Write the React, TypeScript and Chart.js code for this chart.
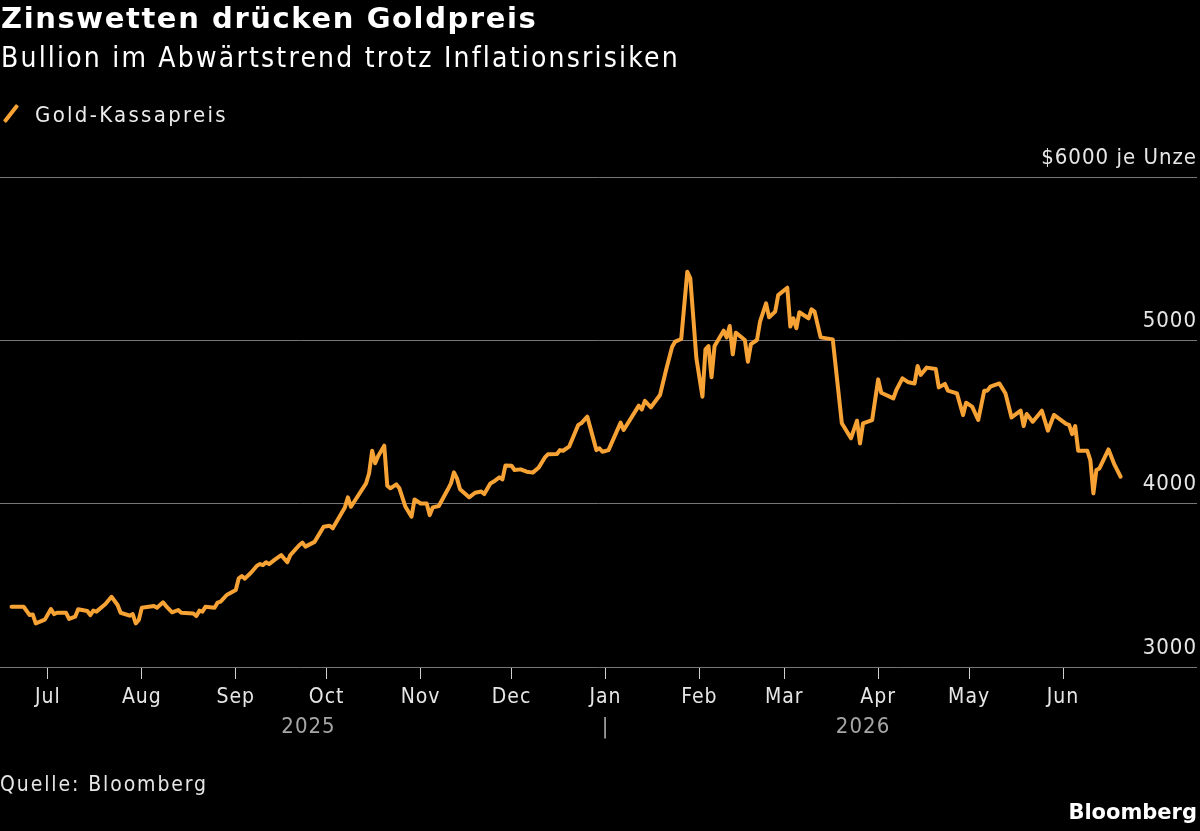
import React, { useEffect, useRef } from "react";
import { Chart, registerables } from "chart.js";

Chart.register(...registerables);

const FONT = '"DejaVu Sans Condensed", "DejaVu Sans", sans-serif';
const FONT_BOLD = '"DejaVu Sans", sans-serif';
const GOLD = "#F7A235";

// Gold spot price, USD per troy ounce
const dates = [
  "2025-06-19", "2025-06-23", "2025-06-25", "2025-06-26", "2025-06-27", "2025-06-30",
  "2025-07-02", "2025-07-03", "2025-07-04", "2025-07-07", "2025-07-08", "2025-07-10",
  "2025-07-11", "2025-07-14", "2025-07-15", "2025-07-16", "2025-07-17", "2025-07-20",
  "2025-07-22", "2025-07-24", "2025-07-25", "2025-07-28", "2025-07-29", "2025-07-30",
  "2025-07-31", "2025-08-01", "2025-08-05", "2025-08-06", "2025-08-08", "2025-08-09",
  "2025-08-11", "2025-08-13", "2025-08-14", "2025-08-18", "2025-08-19", "2025-08-20",
  "2025-08-21", "2025-08-22", "2025-08-25", "2025-08-26", "2025-08-27", "2025-08-29",
  "2025-09-01", "2025-09-02", "2025-09-03", "2025-09-04", "2025-09-06", "2025-09-08",
  "2025-09-09", "2025-09-10", "2025-09-11", "2025-09-12", "2025-09-14", "2025-09-16",
  "2025-09-18", "2025-09-19", "2025-09-22", "2025-09-23", "2025-09-24", "2025-09-27",
  "2025-09-30", "2025-10-02", "2025-10-03", "2025-10-07", "2025-10-08", "2025-10-09",
  "2025-10-14", "2025-10-15", "2025-10-16", "2025-10-17", "2025-10-18", "2025-10-20",
  "2025-10-21", "2025-10-22", "2025-10-24", "2025-10-25", "2025-10-27", "2025-10-29",
  "2025-10-30", "2025-11-01", "2025-11-03", "2025-11-04", "2025-11-05", "2025-11-07",
  "2025-11-10", "2025-11-11", "2025-11-12", "2025-11-13", "2025-11-14", "2025-11-17",
  "2025-11-19", "2025-11-21", "2025-11-22", "2025-11-24", "2025-11-25", "2025-11-27",
  "2025-11-28", "2025-11-29", "2025-12-01", "2025-12-02", "2025-12-04", "2025-12-06",
  "2025-12-08", "2025-12-10", "2025-12-12", "2025-12-13", "2025-12-16", "2025-12-17",
  "2025-12-18", "2025-12-20", "2025-12-23", "2025-12-24", "2025-12-26", "2025-12-29",
  "2025-12-30", "2025-12-31", "2026-01-02", "2026-01-06", "2026-01-07", "2026-01-12",
  "2026-01-13", "2026-01-14", "2026-01-16", "2026-01-19", "2026-01-21", "2026-01-23",
  "2026-01-24", "2026-01-26", "2026-01-28", "2026-01-29", "2026-01-31", "2026-02-02",
  "2026-02-03", "2026-02-04", "2026-02-05", "2026-02-06", "2026-02-09", "2026-02-10",
  "2026-02-11", "2026-02-12", "2026-02-13", "2026-02-16", "2026-02-17", "2026-02-18",
  "2026-02-20", "2026-02-21", "2026-02-23", "2026-02-24", "2026-02-26", "2026-02-27",
  "2026-03-02", "2026-03-03", "2026-03-04", "2026-03-05", "2026-03-06", "2026-03-09",
  "2026-03-10", "2026-03-11", "2026-03-13", "2026-03-17", "2026-03-20", "2026-03-23",
  "2026-03-25", "2026-03-26", "2026-03-27", "2026-03-30", "2026-04-01", "2026-04-02",
  "2026-04-06", "2026-04-07", "2026-04-09", "2026-04-11", "2026-04-13", "2026-04-14",
  "2026-04-15", "2026-04-17", "2026-04-20", "2026-04-21", "2026-04-23", "2026-04-24",
  "2026-04-27", "2026-04-29", "2026-04-30", "2026-05-02", "2026-05-04", "2026-05-06",
  "2026-05-07", "2026-05-08", "2026-05-11", "2026-05-13", "2026-05-15", "2026-05-18",
  "2026-05-19", "2026-05-20", "2026-05-22", "2026-05-25", "2026-05-27", "2026-05-29",
  "2026-06-02", "2026-06-03", "2026-06-04", "2026-06-05", "2026-06-06", "2026-06-09",
  "2026-06-10", "2026-06-11", "2026-06-12", "2026-06-13", "2026-06-16", "2026-06-18",
  "2026-06-20",
];

const goldPrices = [
  3369, 3369, 3318, 3322, 3267, 3290,
  3355, 3324, 3332, 3332, 3294, 3308,
  3353, 3343, 3318, 3345, 3339, 3386,
  3430, 3380, 3332, 3314, 3324, 3267,
  3288, 3363, 3373, 3363, 3396, 3373,
  3335, 3349, 3332, 3328, 3312, 3345,
  3339, 3369, 3363, 3394, 3400, 3441,
  3471, 3543, 3557, 3541, 3577, 3620,
  3630, 3624, 3641, 3630, 3659, 3685,
  3641, 3685, 3747, 3761, 3737, 3766,
  3859, 3865, 3849, 3977, 4039, 3981,
  4124, 4186, 4324, 4247, 4292, 4355,
  4110, 4094, 4118, 4094, 3981, 3920,
  4026, 4001, 4001, 3930, 3977, 3986,
  4088, 4124, 4192, 4155, 4088, 4039,
  4067, 4074, 4059, 4124, 4134, 4161,
  4149, 4234, 4232, 4206, 4210, 4196,
  4190, 4222, 4283, 4302, 4304, 4328,
  4324, 4349, 4482, 4492, 4533, 4328,
  4339, 4318, 4328, 4496, 4451, 4600,
  4577, 4629, 4590, 4665, 4818, 4961,
  4992, 5008, 5420, 5379, 4890, 4655,
  4945, 4965, 4774, 4965, 5059, 5018,
  5088, 4914, 5047, 5002, 4869, 4977,
  5002, 5114, 5226, 5141, 5176, 5277,
  5322, 5084, 5135, 5074, 5172, 5135,
  5190, 5176, 5018, 5006, 4492, 4400,
  4508, 4369, 4492, 4512, 4761, 4679,
  4645, 4696, 4767, 4743, 4736, 4843,
  4788, 4833, 4824, 4712, 4733, 4692,
  4675, 4543, 4618, 4594, 4512, 4692,
  4692, 4716, 4736, 4675, 4528, 4569,
  4475, 4549, 4502, 4569, 4447, 4543,
  4488, 4482, 4426, 4475, 4324, 4324,
  4267, 4063, 4206, 4216, 4332, 4237,
  4165,
];

const monthStarts = [
  "2025-07-01", "2025-08-01", "2025-09-01", "2025-10-01", "2025-11-01", "2025-12-01",
  "2026-01-01", "2026-02-01", "2026-03-01", "2026-04-01", "2026-05-01", "2026-06-01",
];
const monthLabels = ["Jul", "Aug", "Sep", "Oct", "Nov", "Dec", "Jan", "Feb", "Mar", "Apr", "May", "Jun"];
const yearBreak = "2026-01-01";
const yearLabels = ["2025", "|", "2026"];
const priceTicks = [3000, 4000, 5000, 6000];
const priceUnit = "je Unze";

// x values are days counted from 1 July 2025
const ORIGIN = Date.UTC(2025, 6, 1);
const toDay = (iso: string) => (Date.parse(iso) - ORIGIN) / 86400000;

const X_MIN = -15.8;
const X_MAX = 379.2;

// Slightly looser tracking for all canvas text (axis labels)
const trackingPlugin = {
  id: "tracking",
  beforeDraw(chart: any) {
    chart.ctx.letterSpacing = "1px";
  },
};

export default function App() {
  const canvasRef = useRef<HTMLCanvasElement | null>(null);

  useEffect(() => {
    document.documentElement.style.background = "#000";
    document.body.style.margin = "0";
    document.body.style.background = "#000";

    const canvas = canvasRef.current;
    if (!canvas) return;

    const points = dates.map((d, i) => ({ x: toDay(d), y: goldPrices[i] }));
    const firstDay = toDay(dates[0]);
    const lastDay = toDay(dates[dates.length - 1]);
    const breakDay = toDay(yearBreak);
    const yearTickValues = [(firstDay + breakDay) / 2, breakDay, (breakDay + lastDay) / 2];

    const chart = new Chart(canvas, {
      type: "line",
      data: {
        datasets: [
          {
            label: "Gold-Kassapreis",
            data: points,
            borderColor: GOLD,
            borderWidth: 4,
            pointRadius: 0,
            tension: 0,
            borderJoinStyle: "round",
            borderCapStyle: "round",
          },
        ],
      },
      plugins: [trackingPlugin],
      options: {
        animation: false,
        responsive: true,
        maintainAspectRatio: false,
        layout: { padding: { top: 177, bottom: 80, left: 0, right: 3 } },
        plugins: {
          legend: { display: false },
          tooltip: { enabled: false },
        },
        scales: {
          x: {
            type: "linear",
            position: "bottom",
            min: X_MIN,
            max: X_MAX,
            afterBuildTicks: (scale: any) => {
              scale.ticks = monthStarts.map((d) => ({ value: toDay(d) }));
            },
            afterFit: (scale: any) => {
              scale.height = 44;
            },
            ticks: {
              autoSkip: false,
              maxRotation: 0,
              padding: 6,
              color: "#e6e6e6",
              font: { family: FONT, size: 21 },
              callback: (_v: any, i: number) => monthLabels[i],
            },
            grid: {
              drawOnChartArea: false,
              drawTicks: true,
              tickLength: 12,
              tickColor: "#d0d0d0",
              tickWidth: 1,
            },
            border: { display: false },
          },
          year: {
            type: "linear",
            axis: "x",
            position: "bottom",
            min: X_MIN,
            max: X_MAX,
            afterBuildTicks: (scale: any) => {
              scale.ticks = yearTickValues.map((v) => ({ value: v }));
            },
            afterFit: (scale: any) => {
              scale.height = 40;
            },
            ticks: {
              autoSkip: false,
              maxRotation: 0,
              padding: -5,
              color: "#a6a6a6",
              font: { family: FONT, size: 22 },
              callback: (_v: any, i: number) => yearLabels[i],
            },
            grid: { display: false },
            border: { display: false },
          },
          y: {
            position: "right",
            min: 3000,
            max: 6000,
            afterBuildTicks: (scale: any) => {
              scale.ticks = priceTicks.map((v) => ({ value: v }));
            },
            afterFit: (scale: any) => {
              scale.width = 0;
            },
            ticks: {
              mirror: true,
              padding: 0,
              labelOffset: -19,
              color: "#e6e6e6",
              font: { family: FONT, size: 22 },
              callback: (v: any) =>
                v === priceTicks[priceTicks.length - 1] ? `$${v} ${priceUnit}` : String(v),
            },
            grid: { color: "#777777", lineWidth: 1, drawTicks: false },
            border: { display: false },
          },
        },
      },
    });

    return () => chart.destroy();
  }, []);

  const text: React.CSSProperties = {
    position: "absolute",
    margin: 0,
    lineHeight: 1,
    fontFamily: FONT,
    whiteSpace: "nowrap",
    color: "#fff",
  };

  return (
    <div
      style={{
        position: "relative",
        width: 1200,
        height: 831,
        background: "#000",
        overflow: "hidden",
      }}
    >
      <canvas ref={canvasRef} style={{ position: "absolute", left: 0, top: 0 }} />
      <div
        style={{
          ...text,
          fontFamily: FONT_BOLD,
          left: 1,
          top: 4,
          fontSize: 29,
          fontWeight: 700,
          letterSpacing: "1.6px",
        }}
      >
        Zinswetten drücken Goldpreis
      </div>
      <div style={{ ...text, left: 1, top: 44, fontSize: 28, letterSpacing: "2.2px" }}>
        Bullion im Abwärtstrend trotz Inflationsrisiken
      </div>
      <div
        style={{
          position: "absolute",
          left: 9,
          top: 103,
          width: 4,
          height: 21,
          background: GOLD,
          borderRadius: 1,
          transform: "rotate(38deg)",
        }}
      />
      <div style={{ ...text, left: 35, top: 104, fontSize: 22, letterSpacing: "2.3px", color: "#ececec" }}>
        Gold-Kassapreis
      </div>
      <div style={{ ...text, left: 0, top: 774, fontSize: 21, letterSpacing: "1.9px", color: "#e6e6e6" }}>
        Quelle: Bloomberg
      </div>
      <div
        style={{
          ...text,
          fontFamily: FONT_BOLD,
          right: 3,
          top: 802,
          fontSize: 21,
          fontWeight: 700,
        }}
      >
        Bloomberg
      </div>
    </div>
  );
}
